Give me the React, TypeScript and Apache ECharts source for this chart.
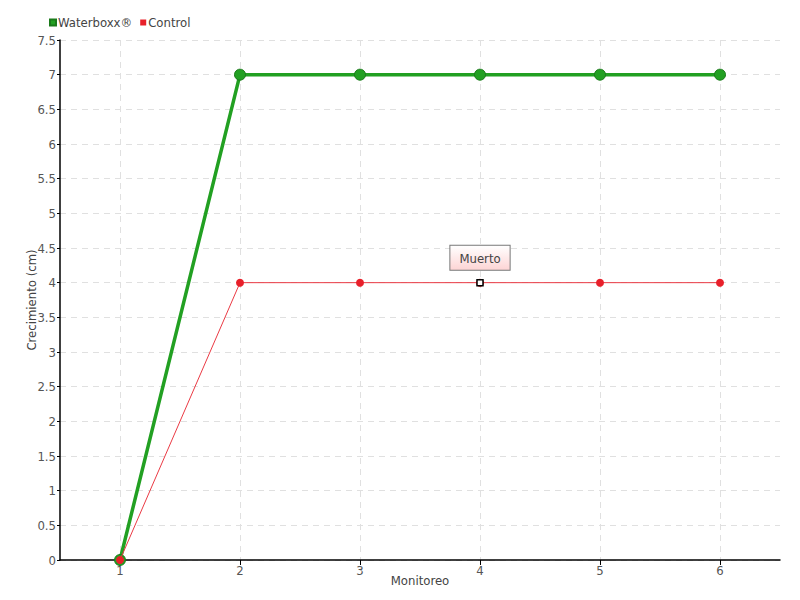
import React, { useEffect, useRef } from "react";
import * as echarts from "echarts";

const monitoreo = [1, 2, 3, 4, 5, 6];
const waterboxx = [0, 7, 7, 7, 7, 7];
const control = [0, 4, 4, 4, 4, 4];
const controlNotes = ["", "", "", "Muerto", "", ""];
const yTicks = { min: 0, max: 7.5, interval: 0.5 };

const FONT = "'Liberation Sans Narrow', 'DejaVu Sans Condensed', 'Roboto Condensed', 'DejaVu Sans', sans-serif";

export default function App() {
  const ref = useRef<HTMLDivElement>(null);
  useEffect(() => {
    if (!ref.current) return;
    const chart = echarts.init(ref.current, undefined, { renderer: "svg" });
    const noteIdx = controlNotes.findIndex((n) => n !== "");
    const controlData = monitoreo.map((m, i) => {
      const note = controlNotes[i];
      if (!note) return [m, control[i]];
      return {
        value: [m, control[i]],
        label: {
          show: true,
          formatter: note,
          position: "top",
          distance: 9,
          color: "#444",
          fontSize: 13,
          fontFamily: FONT,
          padding: [6, 9, 5, 9],
          borderColor: "#777",
          borderWidth: 1,
          backgroundColor: {
            type: "linear",
            x: 0, y: 0, x2: 0, y2: 1,
            colorStops: [
              { offset: 0, color: "#ffffff" },
              { offset: 1, color: "#fdd5d5" },
            ],
          },
        },
      };
    });
    chart.setOption({
      animation: false,
      textStyle: { fontFamily: FONT },
      legend: {
        left: 44,
        top: 11,
        icon: "rect",
        itemWidth: 6,
        itemHeight: 6,
        itemGap: 8,
        textStyle: { fontSize: 13, color: "#444", fontFamily: FONT, padding: [0, 0, 0, -3] },
        data: ["Waterboxx®", "Control"],
      },
      grid: { left: 60, right: 20, top: 40, bottom: 40 },
      xAxis: {
        type: "value",
        min: 0.5,
        max: 6.5,
        name: "Monitoreo",
        nameLocation: "middle",
        nameGap: 14,
        nameMoveOverlap: false,
        nameTextStyle: { fontSize: 13, color: "#444", fontFamily: FONT },
        axisLine: { show: true, lineStyle: { color: "#000", width: 1.5 } },
        axisTick: { show: true, length: 5, customValues: monitoreo, lineStyle: { color: "#000" } },
        axisLabel: { customValues: monitoreo, fontSize: 13, color: "#555", margin: 4, fontFamily: FONT },
        splitLine: { show: true, lineStyle: { color: "#e0e0e0", type: [6, 5] } },
      },
      yAxis: {
        type: "value",
        min: yTicks.min,
        max: yTicks.max,
        interval: yTicks.interval,
        name: "Crecimiento (cm)",
        nameLocation: "middle",
        nameGap: 22,
        nameMoveOverlap: false,
        nameTextStyle: { fontSize: 13, color: "#444", fontFamily: FONT },
        axisLine: { show: true, lineStyle: { color: "#000", width: 1.5 } },
        axisTick: { show: true, length: 3, lineStyle: { color: "#000" } },
        axisLabel: { fontSize: 13, color: "#555", margin: 4, fontFamily: FONT },
        splitLine: { show: true, lineStyle: { color: "#e0e0e0", type: [6, 5] } },
      },
      series: [
        {
          name: "Waterboxx®",
          type: "line",
          data: monitoreo.map((m, i) => [m, waterboxx[i]]),
          color: "#22a022",
          lineStyle: { width: 3.5, color: "#22a022" },
          symbol: "circle",
          symbolSize: 11,
          itemStyle: { color: "#22a022", borderColor: "#1a7a1a", borderWidth: 1 },
          z: 2,
        },
        {
          name: "Control",
          type: "line",
          data: controlData,
          color: "#e8202a",
          lineStyle: { width: 1, color: "#ea3a44" },
          symbol: "circle",
          symbolSize: 8,
          itemStyle: { color: "#e8202a" },
          z: 3,
          markPoint: {
            silent: true,
            symbol: "rect",
            symbolSize: 6,
            label: { show: false },
            itemStyle: { color: "#ffffff", borderColor: "#000000", borderWidth: 1.5 },
            data: noteIdx >= 0 ? [{ coord: [monitoreo[noteIdx], control[noteIdx]] }] : [],
          },
        },
      ],
    });
    return () => chart.dispose();
  }, []);
  return <div ref={ref} style={{ width: 800, height: 600, position: "absolute", left: 0, top: 0 }} />;
}
